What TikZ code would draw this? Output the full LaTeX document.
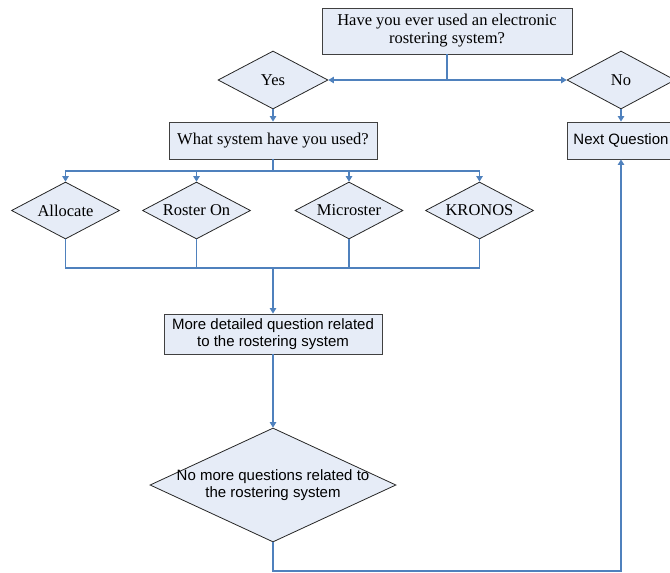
\documentclass[tikz,border=0pt]{standalone}
\usepackage{fontspec}
\setmainfont{Liberation Serif}
\newfontfamily\arialfont{Liberation Sans}
\usetikzlibrary{shapes.geometric,arrows.meta}
\definecolor{shade}{RGB}{230,236,247}
\definecolor{wire}{RGB}{79,129,189}

\begin{document}
\begin{tikzpicture}[x=1pt,y=-1pt,
    box/.style={draw=black!75,fill=shade,line width=0.9pt,inner sep=0pt,align=center,
      font=\fontsize{16.5}{18}\selectfont},
    choice/.style={diamond,draw=black!85,fill=shade,line width=0.8pt,inner sep=0pt,
      align=center,shape aspect=1.9,font=\fontsize{16.5}{18}\selectfont},
    sans/.style={font=\arialfont\fontsize{15}{17}\selectfont},
    flow/.style={draw=wire,line width=1.1pt},
    arr/.style={flow,-{Triangle[width=6.5pt,length=5.5pt]}}]
  \useasboundingbox (0,0) rectangle (670,573);
  \clip (0,0) rectangle (670,573);

  \node[box,minimum width=250,minimum height=46] (ever) at (447,31)
    {Have you ever used an electronic\\rostering system?};
  \node[choice,minimum width=110,minimum height=58] (yes) at (273,80) {Yes};
  \node[choice,minimum width=108,minimum height=58] (no) at (621,80) {No};
  \node[box,minimum width=208,minimum height=37] (which) at (273,140.5)
    {What system have you used?};
  \node[box,sans,minimum width=108,minimum height=37] (next) at (621,140.5)
    {Next Question};
  \node[choice,minimum width=108,minimum height=57] (allocate) at (65.5,210.5) {Allocate};
  \node[choice,minimum width=108,minimum height=57] (rosteron) at (196.5,210.5) {Roster On};
  \node[choice,minimum width=108,minimum height=57] (microster) at (349,210.5) {Microster};
  \node[choice,minimum width=108,minimum height=57] (kronos) at (479.5,210.5) {KRONOS};
  \node[box,sans,minimum width=218,minimum height=40] (detail) at (273,334)
    {More detailed question related\\to the rostering system};
  \node[choice,sans,shape aspect=2.16,inner xsep=-20pt,minimum width=246,
    minimum height=114] (done) at (273,485)
    {No more questions related to\\the rostering system};

  \coordinate (fork) at (ever.south |- yes.east);
  \coordinate (split) at (273,171);
  \coordinate (merge) at (273,268);
  \coordinate (loop) at (621,571);

  \begin{scope}[flow]
    \draw (ever.south) -- (fork);
    \draw[arr] (fork) -- (yes.east);
    \draw[arr] (fork) -- (no.west);
    \draw[arr] (yes.south) -- (which.north);
    \draw[arr] (no.south) -- (next.north);
    \draw (which.south) -- (split);
    \draw[arr] (split) -| (allocate.north);
    \draw[arr] (split) -| (rosteron.north);
    \draw[arr] (split) -| (microster.north);
    \draw[arr] (split) -| (kronos.north);
    \draw (allocate.south) |- (merge);
    \draw (rosteron.south) |- (merge);
    \draw (microster.south) |- (merge);
    \draw (kronos.south) |- (merge);
    \draw[arr] (merge) -- (detail.north);
    \draw[arr] (detail.south) -- (done.north);
    \draw[arr] (done.south) |- (loop) -- (next.south);
  \end{scope}
\end{tikzpicture}
\end{document}
